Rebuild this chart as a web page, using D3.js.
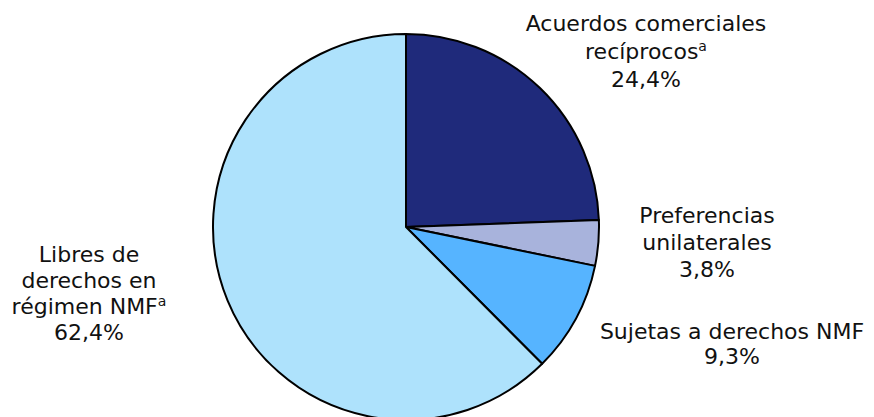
<!DOCTYPE html>
<html><head><meta charset="utf-8">
<script src="https://cdn.jsdelivr.net/npm/d3@7"></script>
<style>body{margin:0;background:#fff}svg{display:block}text{font-family:"DejaVu Sans",Verdana,sans-serif;fill:#111}</style>
</head><body><svg id="c" width="874" height="417"></svg>
<script>
const categories = ["Acuerdos comerciales recíprocos", "Preferencias unilaterales", "Sujetas a derechos NMF", "Libres de derechos en régimen NMF"];
const values = [24.4, 3.8, 9.3, 62.4];
const colors = ["#1f2a7b", "#a8b3dc", "#56b4ff", "#aee2fc"];
const labelLines = [
  ["Acuerdos comerciales", "recíprocos^a", "24,4%"],
  ["Preferencias", "unilaterales", "3,8%"],
  ["Sujetas a derechos NMF", "9,3%"],
  ["Libres de", "derechos en", "régimen NMF^a", "62,4%"]
];
const labelPos = [[646, 31, 28], [707, 223, 27], [732, 339, 25], [89, 262, 26]];

const svg = d3.select("#c");
const cx = 406, cy = 227, r = 193;
const pie = d3.pie().sort(null).value(d => d)(values);
const arc = d3.arc().innerRadius(0).outerRadius(r);
const g = svg.append("g").attr("transform", `translate(${cx},${cy})`);
g.selectAll("path").data(pie).join("path")
  .attr("d", arc).attr("fill", (d, i) => colors[i])
  .attr("stroke", "#000").attr("stroke-width", 2).attr("stroke-linejoin", "round");

labelLines.forEach((lines, i) => {
  const [x, y, lh] = labelPos[i];
  const t = svg.append("text").attr("text-anchor", "middle").attr("font-size", 22);
  lines.forEach((ln, j) => {
    const ts = t.append("tspan").attr("x", x).attr("y", y + j * lh);
    if (ln.endsWith("^a")) {
      ts.text(ln.slice(0, -2));
      ts.append("tspan").text("a").attr("font-size", 14).attr("dy", -8);
    } else ts.text(ln);
  });
});
</script></body></html>
